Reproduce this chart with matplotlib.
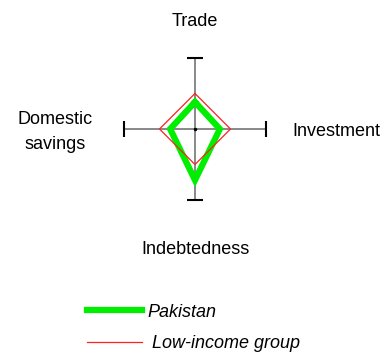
import matplotlib.pyplot as plt
import numpy as np

plt.rcParams['font.family'] = ['Liberation Sans', 'DejaVu Sans']

# axes go clockwise from the top
categories = ["Trade", "Investment", "Indebtedness", "Domestic\nsavings"]
pakistan = [0.38, 0.35, 0.72, 0.35]
low_income = [0.5, 0.5, 0.5, 0.5]
axis_max = 1.0

W, H = 389, 353
cx, cy, scale = 195, 129, 71   # centre of the web and px per unit

fig = plt.figure(figsize=(W / 100, H / 100), dpi=100)
ax = fig.add_axes([0, 0, 1, 1])
ax.set_xlim(-cx / scale, (W - cx) / scale)
ax.set_ylim(-(H - cy) / scale, cy / scale)
ax.axis("off")

ang = np.pi / 2 - np.arange(len(categories)) * np.pi / 2

def to_xy(vals):
    v = np.array(vals + vals[:1])
    a = np.append(ang, ang[0])
    return v * np.cos(a), v * np.sin(a)

# axis spokes with end caps
for a in ang:
    x, y = axis_max * np.cos(a), axis_max * np.sin(a)
    ax.plot([0, x], [0, y], color="#7f7f7f", lw=1.3, zorder=1)
    mk = "_" if abs(np.cos(a)) < 0.5 else "|"
    ax.plot(x, y, marker=mk, ms=11, mew=1.5, color="black", zorder=2)
ax.plot(0, 0, "o", ms=1.5, color="black", zorder=2)

px, py = to_xy(pakistan)
ax.plot(px, py, color="#00ee00", lw=4.5, solid_joinstyle="miter", label="Pakistan", zorder=3)
lx, ly = to_xy(low_income)
ax.plot(lx, ly, color="#ff2020", lw=0.9, solid_joinstyle="miter", label=" Low-income group", zorder=4)

# category labels
fs = 13
ax.text(0, 108 / scale, categories[0], ha="center", va="center", fontsize=fs)
ax.text(97 / scale, -3 / scale, categories[1], ha="left", va="center", fontsize=fs)
ax.text(1 / scale, -120 / scale, categories[2], ha="center", va="center", fontsize=fs)
ax.text(-140 / scale, -3 / scale, categories[3], ha="center", va="center", fontsize=fs,
        linespacing=1.65)

leg = ax.legend(loc="center left", bbox_to_anchor=(87 / W, 1 - 328 / H),
                bbox_transform=fig.transFigure, frameon=False,
                prop={"style": "italic", "size": fs}, handlelength=3.05,
                handletextpad=0.3, labelspacing=0.8, borderpad=0, borderaxespad=0)

fig.savefig("out.png", dpi=100)
